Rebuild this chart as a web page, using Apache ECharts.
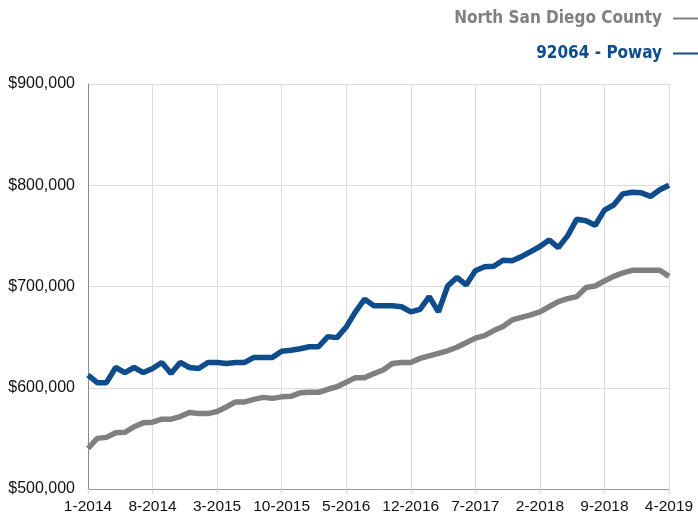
<!DOCTYPE html>
<html>
<head>
<meta charset="utf-8">
<script src="https://cdn.jsdelivr.net/npm/echarts@6/dist/echarts.min.js"></script>
<style>
  html, body { margin: 0; padding: 0; background: #fff; }
  #chart { width: 698px; height: 518px; }
</style>
</head>
<body>
<div id="chart"></div>
<script>
// monthly categories, 1-2014 .. 4-2019
const startYear = 2014
const monthCount = 64
const months = []
for (let i = 0; i < monthCount; i++) {
  const m = i % 12 + 1
  const y = startYear + Math.floor(i / 12)
  months.push(m + '-' + y)
}

const seriesNames = ['North San Diego County', '92064 - Poway']

const northCounty = [
  540000, 550000, 551000, 555500, 556000, 561500, 565500, 566000, 569000, 569000,
  571500, 575500, 574500, 574500, 576500, 581000, 586000, 586000, 588500, 590500,
  589500, 591000, 591500, 595000, 595500, 595500, 598500, 601000, 605500, 610000,
  610000, 614000, 617500, 624000, 625000, 625000, 629000, 631500, 634000, 636500,
  640000, 644500, 649000, 651500, 656500, 660500, 667000, 669500, 672000, 675000,
  680000, 685000, 688000, 690000, 699000, 700500, 705500, 710000, 713500, 716000,
  716000, 716000, 716000, 710000
]

const poway = [
  612500, 605000, 605000, 620000, 615000, 620000, 615000, 619000, 625000, 614000,
  625000, 620000, 619000, 625000, 625000, 624000, 625000, 625000, 630000, 630000,
  630000, 636000, 637000, 638500, 640500, 640500, 650500, 649500, 660000, 675000,
  687500, 681000, 681000, 681000, 680000, 675000, 677500, 690000, 675000, 700500,
  709000, 701500, 715500, 719500, 720000, 726000, 725500, 729500, 734500, 739500,
  746000, 738500, 750000, 766500, 765000, 760500, 775500, 780500, 791500, 793000,
  792500, 789000, 795500, 800000
]

const colors = ['#808080', '#0e4c8c']

const chart = echarts.init(document.getElementById('chart'))

const option = {
  animation: false,
  color: colors,
  textStyle: { fontFamily: 'Liberation Sans, Arial, sans-serif' },
  legend: {
    orient: 'vertical',
    right: -6,
    top: 4,
    align: 'right',
    itemGap: 16,
    itemWidth: 26,
    itemHeight: 2,
    icon: 'rect',
    data: [
      { name: seriesNames[0], textStyle: { color: colors[0] } },
      { name: seriesNames[1], textStyle: { color: colors[1] } }
    ],
    textStyle: {
      fontFamily: 'DejaVu Sans Condensed, sans-serif',
      fontWeight: 'bold',
      fontSize: 17,
      lineHeight: 19,
      padding: [0, 6, 0, 0]
    }
  },
  grid: { left: 88, right: 29, top: 84, bottom: 29 },
  xAxis: {
    type: 'category',
    data: months,
    boundaryGap: false,
    axisLine: { lineStyle: { color: '#9a9a9a', width: 1 } },
    axisTick: { interval: 6, length: 5, lineStyle: { color: '#d9d9d9' } },
    axisLabel: { interval: 6, color: '#111', fontSize: 15.5, margin: 10 },
    splitLine: { show: true, interval: 6, lineStyle: { color: '#dcdcdc', width: 1 } }
  },
  yAxis: {
    type: 'value',
    min: 500000,
    max: 900000,
    interval: 100000,
    axisLine: { show: true, lineStyle: { color: '#8a8a8a', width: 1 } },
    axisTick: { show: false },
    axisLabel: {
      color: '#111',
      fontSize: 16,
      margin: 13,
      formatter: v => '$' + v.toLocaleString('en-US')
    },
    splitLine: { lineStyle: { color: '#dcdcdc', width: 1 } }
  },
  series: [
    {
      name: seriesNames[0],
      type: 'line',
      data: northCounty,
      showSymbol: false,
      lineStyle: { width: 5.5, color: colors[0] }
    },
    {
      name: seriesNames[1],
      type: 'line',
      data: poway,
      showSymbol: false,
      lineStyle: { width: 5.5, color: colors[1] }
    }
  ]
}

chart.setOption(option)
</script>
</body>
</html>
